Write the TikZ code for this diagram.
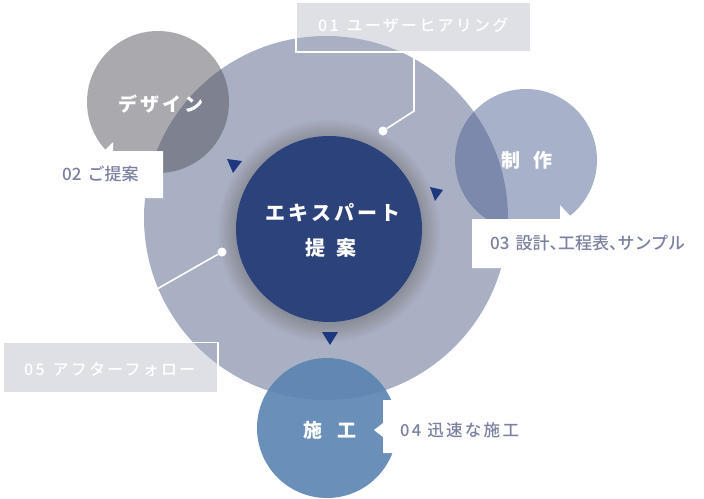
\documentclass[tikz,border=0pt]{standalone}
\usepackage{fontspec}
\setmainfont{Noto Sans CJK JP}
\newfontfamily\jpmed[UprightFont={* Medium}]{Noto Sans CJK JP}
\newfontfamily\jpmedls[UprightFont={* Medium}, LetterSpace=14]{Noto Sans CJK JP}
\newfontfamily\jpmedsp[UprightFont={* Medium}, LetterSpace=14]{Noto Sans CJK JP}
\newfontfamily\jpmedhalt[UprightFont={* Medium}, RawFeature=+halt]{Noto Sans CJK JP}
\newfontfamily\jpcirc[LetterSpace=16]{Noto Sans CJK JP}
\definecolor{bigc}{RGB}{170,176,196}
\definecolor{boxgray}{RGB}{223,224,230}
\definecolor{navy}{RGB}{44,66,122}
\definecolor{tri}{RGB}{30,56,128}
\definecolor{lblc}{RGB}{123,129,161}
\definecolor{grayc}{RGB}{81,81,89}
\definecolor{seisc}{RGB}{80,100,150}
\definecolor{sekoc}{RGB}{90,132,178}
\tikzset{
  circtxt/.style={text=white, font=\fontsize{19}{21}\selectfont\bfseries, inner sep=0},
  lbl/.style={text=lblc, font=\jpmed\fontsize{17}{19}\selectfont, anchor=west, inner sep=0},
  wlbl/.style={text=white, font=\jpmedls\fontsize{16}{18}\selectfont, anchor=west, inner sep=0},
  graybox/.style={fill=boxgray, inner sep=0, draw=none},
  conn/.style={draw=white, line width=1.6pt},
  dotc/.style={circle, fill=white, inner sep=0, minimum size=9pt},
  arrowtri/.style={fill=tri}
}
\begin{document}
\begin{tikzpicture}[x=1pt,y=-1pt]
\useasboundingbox (0,0) rectangle (704,498);
% grey label boxes (fill under the big circle)
\node[graybox, minimum width=235pt, minimum height=50pt] (b01) at (413.5,27) {};
\node[graybox, minimum width=215pt, minimum height=50pt] (b05) at (110.5,367.5) {};
% big circle
\fill[bigc] (326,218) circle (182);
% satellite circles
\fill[grayc, opacity=0.49] (158,102) circle (71);
\fill[seisc, opacity=0.5] (526,160) circle (71);
\fill[sekoc, opacity=0.9] (327,428) circle (70);
% shadow of the central circle
\foreach \i in {1,...,16} {\fill[black, opacity=0.012] (329,231) circle (92+1.2*\i);}
\fill[navy] (329,229) circle (93);
% rotation triangles
\fill[arrowtri] (227,159) -- (242,161) -- (233,173) -- cycle;
\fill[arrowtri] (430,187) -- (443,190) -- (435,201) -- cycle;
\fill[arrowtri] (322,332) -- (338,332) -- (330,345) -- cycle;
% white borders of grey boxes
\draw[white, line width=1.5pt] (b01.south west) rectangle (b01.north east);
\draw[white, line width=1.5pt] (b05.south west) rectangle (b05.north east);
% white label boxes with pointers
\fill[white] (40,151) -- (104,151) -- (113,142) -- (113,151) -- (163,151) -- (163,198) -- (40,198) -- cycle;
\fill[white] (472,219) -- (560,219) -- (560,205) -- (573,219) -- (704,219) -- (704,268) -- (472,268) -- cycle;
\fill[white] (383,400) -- (545,400) -- (545,453) -- (383,453) -- (383,437) -- (374,430) -- (383,423) -- cycle;
% connectors
\node[dotc] (d1) at (383,131) {};
\coordinate (k1) at (414,111);
\draw[conn] (b01.south -| k1) -- (k1) -- (d1);
\node[dotc] (d5) at (222,252) {};
\coordinate (k5) at (157,289);
\draw[conn] (d5) -- (k5) -- (k5 |- b05.north);
% circle texts
\node[circtxt, font=\jpcirc\fontsize{19}{21}\selectfont\bfseries] (tdesign) at (161,104) {デザイン};
\node[circtxt] (tseisaku) at (527,160) {制\hspace{13pt}作};
\node[circtxt] (tsekou) at (330,430) {施\hspace{15pt}工};
\node[circtxt, font=\jpcirc\fontsize{20}{22}\selectfont\bfseries] (texp) at (333,213) {エキスパート};
\node[circtxt, font=\fontsize{20}{22}\selectfont\bfseries] (tteian) at (331,248) {提\hspace{11pt}案};
% labels
\node[wlbl] (t01) at (318,25) {01\hspace{8pt}ユーザーヒアリング};
\node[wlbl] (t05) at (24,369) {05\hspace{8pt}アフターフォロー};
\node[lbl] (t02) at (62,174) {02\hspace{6pt}ご提案};
\node[lbl, font=\jpmedhalt\fontsize{17}{19}\selectfont] (t03) at (490,243) {03\hspace{6pt}設計、工程表、サンプル};
\node[lbl, font=\jpmedsp\fontsize{16.5}{18}\selectfont] (t04) at (400,430) {04\hspace{6pt}迅速な施工};
\end{tikzpicture}
\end{document}
